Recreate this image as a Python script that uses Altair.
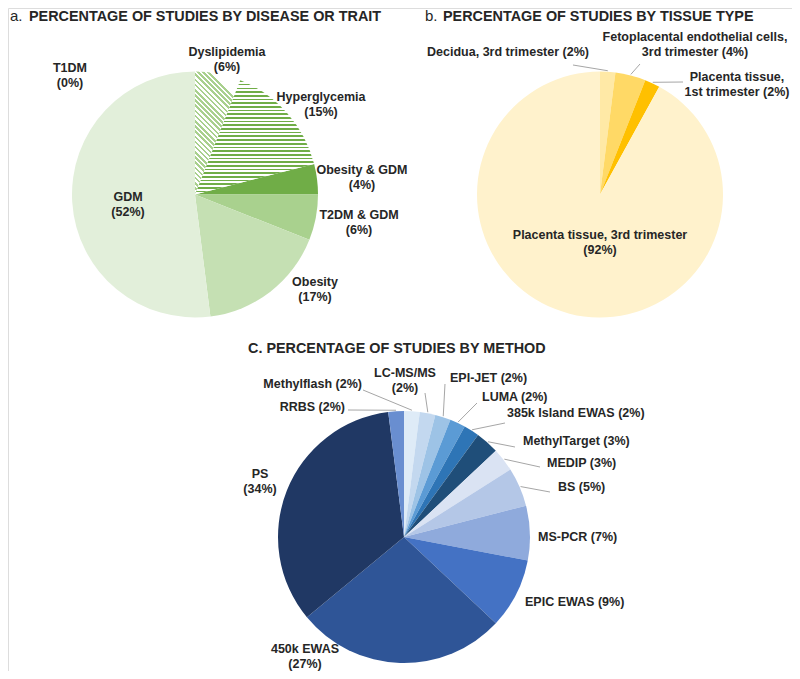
import math
import altair as alt
import pandas as pd

# ---------------- data ----------------
a_names = ["T1DM", "Dyslipidemia", "Hyperglycemia", "Obesity & GDM", "T2DM & GDM", "Obesity", "GDM"]
a_values = [0, 6, 15, 4, 6, 17, 52]

b_names = ["Decidua, 3rd trimester", "Fetoplacental endothelial cells, 3rd trimester",
           "Placenta tissue, 1st trimester", "Placenta tissue, 3rd trimester"]
b_values = [2, 4, 2, 92]

c_names = ["Methylflash", "LC-MS/MS", "EPI-JET", "LUMA", "385k Island EWAS", "MethylTarget",
           "MEDIP", "BS", "MS-PCR", "EPIC EWAS", "450k EWAS", "PS", "RRBS"]
c_values = [2, 2, 2, 2, 2, 3, 3, 5, 7, 9, 27, 34, 2]

titles = ["PERCENTAGE OF STUDIES BY DISEASE OR TRAIT", "PERCENTAGE OF STUDIES BY TISSUE TYPE",
          "C. PERCENTAGE OF STUDIES BY METHOD"]
title_prefix = ["a.", "b."]

# ---------------- styles / layout ----------------
a_colors = ["#385723", "#FFFFFF", "#FFFFFF", "#70AD47", "#A9D18E", "#C5E0B3", "#E2EFDA"]
b_colors = ["#FFE9A6", "#FFD966", "#FFC000", "#FFF2CC"]
c_colors = ["#DEEBF7", "#C3D8EF", "#9DC3E6", "#5B9BD5", "#2E75B6", "#1F4E79",
            "#DAE3F3", "#B4C7E7", "#8FAADC", "#4472C4", "#2F5597", "#203864", "#698ED0"]

OFF = 8
FONT = "Liberation Sans"
TXT = "#262626"
LEAD = "#A6A6A6"
LABEL_SIZE = 12.5
LINE_H = 15

PIE_A = (195, 194.5, 123)
PIE_B = (600, 194.5, 123)
PIE_C = (404, 537, 126)

# label layout (block centre): name -> (x, y, align, wrap_after_comma, separator)
a_layout = {
    "T1DM": (70, 75.5, "center", False, "\n"),
    "Dyslipidemia": (227, 59, "center", False, "\n"),
    "Hyperglycemia": (321, 104.5, "center", False, "\n"),
    "Obesity & GDM": (362, 177.5, "center", False, "\n"),
    "T2DM & GDM": (359, 222.5, "center", False, "\n"),
    "Obesity": (315, 289.5, "center", False, "\n"),
    "GDM": (128, 204.5, "center", False, "\n"),
}
b_layout = {
    "Decidua, 3rd trimester": (508, 52, "center", False, " "),
    "Fetoplacental endothelial cells, 3rd trimester": (695, 44.5, "center", True, " "),
    "Placenta tissue, 1st trimester": (737, 84.5, "center", True, " "),
    "Placenta tissue, 3rd trimester": (600, 242.5, "center", False, "\n"),
}
c_layout = {
    "RRBS": (345, 407, "right", False, " "),
    "Methylflash": (362, 384, "right", False, " "),
    "LC-MS/MS": (405, 380, "center", False, "\n"),
    "EPI-JET": (450, 378, "left", False, "  "),
    "LUMA": (482, 397, "left", False, " "),
    "385k Island EWAS": (507, 413, "left", False, " "),
    "MethylTarget": (523, 441, "left", False, " "),
    "MEDIP": (547, 463, "left", False, " "),
    "BS": (558, 487, "left", False, " "),
    "MS-PCR": (538, 537, "left", False, " "),
    "EPIC EWAS": (525, 602, "left", False, " "),
    "450k EWAS": (305, 656, "center", False, "\n"),
    "PS": (260, 481.5, "center", False, "\n"),
}
# leader line label-side end points
b_leaders = {
    "Decidua, 3rd trimester": (573, 65),
    "Fetoplacental endothelial cells, 3rd trimester": (640, 64),
    "Placenta tissue, 1st trimester": (683, 82),
}
c_leaders = {
    "RRBS": (348, 410), "Methylflash": (363, 390), "LC-MS/MS": (425, 393),
    "EPI-JET": (445, 384), "LUMA": (477, 403), "385k Island EWAS": (505, 423),
    "MethylTarget": (515, 447), "MEDIP": (540, 467), "BS": (550, 492),
}

theta_scale = alt.Scale(domain=[0, 100], range=[0, 2 * math.pi])


def slices(names, values, colors):
    rows, cum = [], 0
    for n, v, c in zip(names, values, colors):
        rows.append(dict(name=n, value=v, start=cum, end=cum + v, mid=cum + v / 2, color=c))
        cum += v
    return pd.DataFrame(rows)


def pie(df, geom, fill=None):
    cx, cy, r = geom
    mk = dict(radius=r)
    if fill is not None:
        mk["fill"] = fill
    enc = dict(
        x=alt.value(cx - OFF), y=alt.value(cy - OFF),
        theta=alt.Theta("start:Q", scale=theta_scale, stack=False),
        theta2="end:Q",
    )
    if fill is None:
        enc["fill"] = alt.Fill("color:N", scale=None)
    return alt.Chart(df).mark_arc(**mk).encode(**enc)


def stripes(n, duty, line, bg, x1, y1, x2, y2):
    stops = []
    for i in range(n):
        a, b, c = i / n, (i + duty) / n, (i + 1) / n
        stops += [alt.GradientStop(offset=a, color=line), alt.GradientStop(offset=b, color=line),
                  alt.GradientStop(offset=b, color=bg), alt.GradientStop(offset=min(c, 1.0), color=bg)]
    return alt.LinearGradient(gradient="linear", stops=stops, x1=x1, y1=y1, x2=x2, y2=y2)


def label_rows(df, layout):
    rows = []
    for _, s in df.iterrows():
        x, y, align, wrap, sep = layout[s["name"]]
        name = s["name"].replace(", ", ",\n", 1) if wrap else s["name"]
        text = f"{name}{sep}({int(s['value'])}%)"
        n_lines = text.count("\n") + 1
        y_first = y - (n_lines - 1) * LINE_H / 2
        rows.append(dict(text=text, x=x - OFF, y=y_first - OFF, align=align))
    return rows


def leader_rows(df, geom, leaders):
    cx, cy, r = geom
    rows = []
    for _, s in df.iterrows():
        if s["name"] in leaders:
            ang = s["mid"] / 100 * 2 * math.pi
            lx, ly = leaders[s["name"]]
            rows.append(dict(x=cx + (r + 1) * math.sin(ang) - OFF, y=cy - (r + 1) * math.cos(ang) - OFF,
                             x2=lx - OFF, y2=ly - OFF))
    return rows


da = slices(a_names, a_values, a_colors)
db = slices(b_names, b_values, b_colors)
dc = slices(c_names, c_values, c_colors)

layers = [pie(da, PIE_A), pie(db, PIE_B), pie(dc, PIE_C)]

# hatched slices of panel a
r = PIE_A[2]
w_dys = r * math.sin(2 * math.pi * 6 / 100)
dys_grad = stripes(27, 0.5, "#A9D08E", "#FFFFFF", 0, 1, w_dys / r, 0)
hyp_grad = stripes(31, 0.45, "#70AD47", "#FFFFFF", 0, 0, 0, 1)
layers.append(pie(da[da["name"] == "Dyslipidemia"], PIE_A, fill=dys_grad))
layers.append(pie(da[da["name"] == "Hyperglycemia"], PIE_A, fill=hyp_grad))

# leader lines
lead = pd.DataFrame(leader_rows(db, PIE_B, b_leaders) + leader_rows(dc, PIE_C, c_leaders))
layers.append(alt.Chart(lead).mark_rule(color=LEAD, strokeWidth=1).encode(
    x=alt.X("x:Q", scale=None, axis=None), y=alt.Y("y:Q", scale=None, axis=None),
    x2="x2:Q", y2="y2:Q"))

# labels
labs = pd.DataFrame(label_rows(da, a_layout) + label_rows(db, b_layout) + label_rows(dc, c_layout))
for al in ["left", "center", "right"]:
    sub = labs[labs["align"] == al]
    layers.append(alt.Chart(sub).mark_text(
        align=al, baseline="middle", font=FONT, fontSize=LABEL_SIZE, fontWeight="bold",
        color=TXT, lineBreak="\n", lineHeight=LINE_H).encode(
        x=alt.X("x:Q", scale=None, axis=None), y=alt.Y("y:Q", scale=None, axis=None),
        text="text:N"))

# titles
t_bold = pd.DataFrame(dict(text=titles, x=[29 - OFF, 443 - OFF, 248 - OFF], y=[21 - OFF, 21 - OFF, 353 - OFF]))
t_pref = pd.DataFrame(dict(text=title_prefix, x=[10 - OFF, 425 - OFF], y=[21 - OFF, 21 - OFF]))
layers.append(alt.Chart(t_bold).mark_text(
    align="left", baseline="alphabetic", font=FONT, fontSize=14.4, fontWeight="bold", color=TXT).encode(
    x=alt.X("x:Q", scale=None, axis=None), y=alt.Y("y:Q", scale=None, axis=None), text="text:N"))
layers.append(alt.Chart(t_pref).mark_text(
    align="left", baseline="alphabetic", font=FONT, fontSize=15, color=TXT).encode(
    x=alt.X("x:Q", scale=None, axis=None), y=alt.Y("y:Q", scale=None, axis=None), text="text:N"))

chart = alt.layer(*layers).properties(
    width=784, height=663, autosize="none", padding=0
).configure_view(stroke=None).configure(background="white")

chart.save("out.html", embed_options={"renderer": "svg", "actions": False})
